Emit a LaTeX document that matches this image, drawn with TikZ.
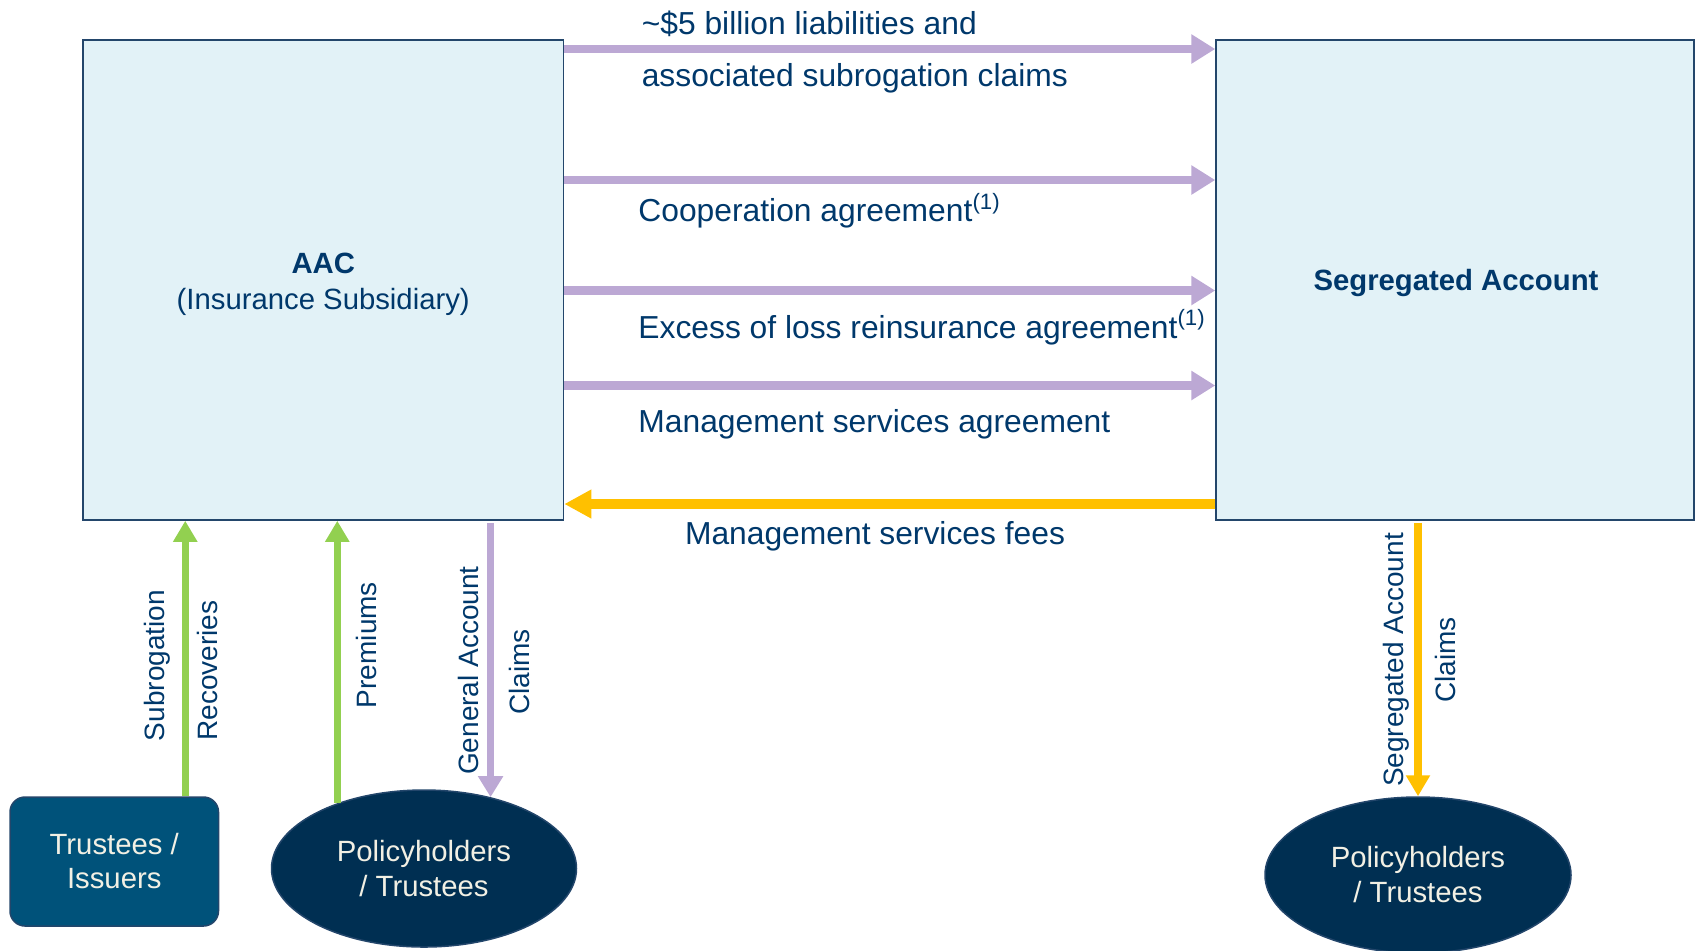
\documentclass[tikz,border=0pt]{standalone}
\usepackage{fontspec}
\setmainfont{Liberation Sans}
\usetikzlibrary{arrows.meta,shapes.geometric,calc}
\definecolor{boxfill}{HTML}{E2F2F7}
\definecolor{boxline}{HTML}{23466B}
\definecolor{purp}{HTML}{BCA8D4}
\definecolor{gold}{HTML}{FFC000}
\definecolor{lgreen}{HTML}{92D050}
\definecolor{navy}{HTML}{00386B}
\definecolor{tealbox}{HTML}{00527A}
\definecolor{darknavy}{HTML}{002F52}
\definecolor{cream}{HTML}{F2F0E4}
\begin{document}
\begin{tikzpicture}[x=0.5pt,y=-0.5pt,
  mainbox/.style={draw=boxline, line width=0.75pt, fill=boxfill, inner sep=0pt},
  boxtext/.style={inner sep=0pt, align=center, text=navy, font=\fontsize{14.65}{17.75}\selectfont},
  hlabel/.style={anchor=west, inner sep=0pt, text=navy, font=\fontsize{15.9}{18}\selectfont},
  vlabel/.style={rotate=90, inner sep=0pt, text=navy, font=\fontsize{14}{17}\selectfont},
  party/.style={ellipse, fill=darknavy, draw=boxline, line width=0.75pt, inner sep=0pt,
    align=center, text=cream, font=\fontsize{14.65}{17.5}\selectfont},
  parr/.style={draw=purp, line width=4.3pt, -{Triangle[length=12pt,width=14pt]}},
  yarr/.style={draw=gold, line width=4.7pt, -{Triangle[length=13.5pt,width=13.5pt]}},
  parrv/.style={draw=purp, line width=3.7pt, -{Triangle[length=10.5pt,width=12pt]}},
  yarrv/.style={draw=gold, line width=3.7pt, -{Triangle[length=10.5pt,width=11.5pt]}},
  garr/.style={draw=lgreen, line width=3.6pt, -{Triangle[length=10.5pt,width=11.5pt]}}]
\useasboundingbox (0,0) rectangle (1696,950);

% main boxes
\node[mainbox, minimum width=240.25pt, minimum height=240pt] (aac) at (323.25,280) {};
\node[boxtext] (aactext) at (323.25,284.5) {\textbf{AAC}\\(Insurance Subsidiary)};
\node[mainbox, minimum width=239pt, minimum height=240pt] (seg) at (1455,280) {};
\node[boxtext] (segtext) at (1456,283) {\textbf{Segregated Account}};

% bottom parties
\node[draw=boxline, line width=0.75pt, fill=tealbox, rounded corners=7.5pt,
  minimum width=104.25pt, minimum height=64.5pt, inner sep=0pt, align=center,
  text=cream, font=\fontsize{14.65}{17}\selectfont] (tru) at (114.25,861.5)
  {Trustees /\\Issuers};
\node[party, minimum width=152.5pt, minimum height=78.5pt] (pol1) at (424,868.5)
  {Policyholders\\/ Trustees};
\node[party, minimum width=153pt, minimum height=78pt] (pol2) at (1418,875)
  {Policyholders\\/ Trustees};

% horizontal arrows
\draw[parr] (aac.east |- 0,49) -- (seg.west |- 0,49);
\draw[parr] (aac.east |- 0,180) -- (seg.west |- 0,180);
\draw[parr] (aac.east |- 0,290.5) -- (seg.west |- 0,290.5);
\draw[parr] (aac.east |- 0,385.5) -- (seg.west |- 0,385.5);
\draw[yarr] (seg.west |- 0,504) -- (aac.east |- 0,504);

% horizontal labels
\node[hlabel] (l1) at (641.4,23.5) {\textasciitilde\$5 billion liabilities and};
\node[hlabel] (l2) at (641.4,78.5) {associated subrogation claims};
\node[hlabel] (l3) at (638,210.5) {Cooperation agreement\textsuperscript{(1)}};
\node[hlabel] (l4) at (638,327) {Excess of loss reinsurance agreement\textsuperscript{(1)}};
\node[hlabel] (l5) at (638,424.5) {Management services agreement};
\node[hlabel] (l6) at (684.6,536) {Management services fees};

% vertical arrows
\coordinate (g1) at ($(tru.north)+(71,0)$);
\draw[garr] (g1) -- (g1 |- aac.south);
\draw[garr] (pol1.143.4) -- (pol1.143.4 |- aac.south);
\draw[parrv] ($(aac.south -| pol1.47)+(0,2)$) -- (pol1.47);
\draw[yarrv] ($(seg.south -| pol2.north)+(0,2)$) -- (pol2.north);

% vertical labels
\node[vlabel] (v1) at (157,665.5) {Subrogation};
\node[vlabel] (v2) at (207,670.5) {Recoveries};
\node[vlabel] (v3) at (366,645) {Premiums};
\node[vlabel] (v4) at (468,670.6) {General Account};
\node[vlabel] (v5) at (519,672) {Claims};
\node[vlabel] (v6) at (1396,660) {Segregated Account};
\node[vlabel] (v7) at (1445,660) {Claims};
\end{tikzpicture}
\end{document}
